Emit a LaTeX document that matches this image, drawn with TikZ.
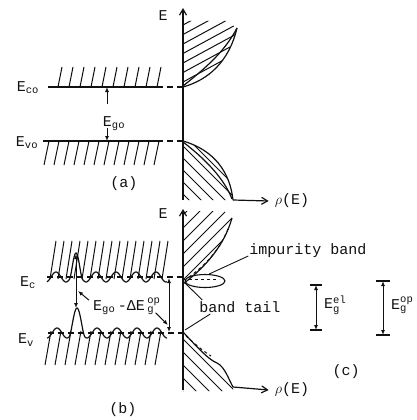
\documentclass[tikz,border=0pt]{standalone}
\usepackage{fontspec}
\setmainfont{Liberation Mono}
\usetikzlibrary{arrows.meta,shapes.geometric}
\definecolor{inkblack}{HTML}{111111}
\newcommand{\supsub}[2]{$_{\mathrm{#2}}^{\mathrm{#1}}$}

\begin{document}
\begin{tikzpicture}[
  x=1pt, y=-1pt,
  font=\fontsize{15}{18}\selectfont,
  line/.style={draw=inkblack, line width=1.2pt},
  hatch/.style={draw=inkblack, line width=1pt},
  edge/.style={draw=inkblack, line width=1.1pt, dash pattern=on 6pt off 4pt},
  dos/.style={draw=inkblack, line width=1pt, dash pattern=on 3pt off 3pt},
  axis/.style={-{Straight Barb[length=6pt,width=7pt]}, draw=inkblack, line width=1.2pt},
  arrow/.style={-{Latex[length=5pt,width=4pt]}, draw=inkblack, line width=1pt},
  gaparrow/.style={{Latex[length=5pt,width=4pt]}-{Latex[length=5pt,width=4pt]}, draw=inkblack, line width=1pt},
  leader/.style={draw=inkblack, line width=0.9pt},
  lbl/.style={inner sep=1pt, text=inkblack}
]
\useasboundingbox (0,0) rectangle (416,420);

\node[lbl] (Eco) at (28,88) {E\textsubscript{co}};
\node[lbl] (Evo) at (27,143) {E\textsubscript{vo}};
\node[lbl] (Ego) at (114,124) {E\textsubscript{go}};
\node[lbl] (labA) at (124,184) {(a)};
\node[lbl] (Eaxa) at (163,16) {E};
\node[lbl] (rhoa) at (292,201) {$\rho$(E)};

\draw[line] (48,87) -- (157,87);
\draw[edge] (157,87) -- (183,87);
\draw[line] (43,141) -- (157,141);
\draw[edge] (157,141) -- (183,141);
\foreach \x in {58,69,...,157}
  \draw[hatch] (\x,87) -- (\x+4,67);
\foreach \x in {44,54,...,154}
  \draw[hatch] (\x+5,141) -- (\x,165);

\coordinate (cotop) at (107,87);
\coordinate (cofoot) at (107,104);
\coordinate (vofoot) at (107,128);
\coordinate (votop) at (107,141);
\draw[arrow] (cofoot) -- (cotop);
\draw[arrow] (vofoot) -- (votop);

\coordinate (axa0) at (183,200);
\draw[axis] (axa0) -- (183,8);

\begin{scope}
  \clip (183,87) .. controls (208,80) and (229,62) .. (237,28) -- (226,21) -- (183,21) -- cycle;
  \foreach \y in {25,34.5,...,96}
    \draw[hatch] (183,\y) -- ++(70,-38);
\end{scope}
\draw[line] (183,87) .. controls (208,80) and (229,62) .. (237,28);
\draw[line] (183,86) .. controls (203,70) and (224,53) .. (237,28);

\begin{scope}
  \clip (183,141) .. controls (214,150) and (230,172) .. (233,200) -- (183,200) -- cycle;
  \foreach \y in {110,122,...,206}
    \draw[hatch] (183,\y) -- ++(70,70);
\end{scope}
\draw[line] (183,141) .. controls (214,150) and (230,172) .. (233,200);
\draw[line] (183,142) .. controls (204,158) and (224,178) .. (232,199);

\coordinate (rhoa0) at (233,200);
\draw[axis] (rhoa0) -- ([xshift=-5pt]rhoa.west);

\node[lbl] (Ec) at (28,283) {E\textsubscript{c}};
\node[lbl] (Ev) at (26,340) {E\textsubscript{v}};
\node[lbl, anchor=west] (gaplbl) at (92,306) {E\textsubscript{go}\,-ΔE\,\supsub{op}{g}};
\node[lbl] (labB) at (123,410) {(b)};
\node[lbl] (Eaxb) at (163,214) {E};
\node[lbl] (rhob) at (292,390) {$\rho$(E)};
\node[lbl] (impurity) at (308,251) {impurity band};
\node[lbl] (tail) at (240,307) {band tail};

\draw[edge] (47,277) -- (183,277);
\draw[edge] (48,333) -- (183,333);
\draw[line] plot[domain=47:167, samples=200, smooth]
  (\x, {277 + 5*sin(18*(\x-61)) - 19*(max(0,1-((\x-76)/6.5)^2))^2});
\draw[line] plot[domain=47:167, samples=200, smooth]
  (\x, {333 + 5*sin(18*(\x-62)) - 20*(max(0,1-((\x-77)/8)^2))^2});
\foreach \x in {50,58,...,162}
  \draw[hatch] (\x,279) -- (\x+6,241);
\foreach \x in {45,55,...,160}
  \draw[hatch] (\x+6,331) -- (\x,365);

\coordinate (chump) at (76,254);
\coordinate (vhump) at (76,308);
\coordinate (humpmid) at (78,291);
\draw[gaparrow] (chump) -- (vhump);
\draw[arrow] ([xshift=-3pt,yshift=-4pt]gaplbl.north west) -- (humpmid);

\coordinate (ectop) at (169,278);
\coordinate (evbot) at (169,332);
\coordinate (edgemid) at (168,325);
\draw[gaparrow] (ectop) -- (evbot);
\draw[arrow] ([xshift=-6pt,yshift=3pt]gaplbl.south east) -- (edgemid);

\coordinate (axb0) at (183,390);
\draw[axis] (axb0) -- (183,209);

\begin{scope}
  \clip (183,284) .. controls (200,271) and (223,250) .. (232,218) -- (224,211) -- (183,211) -- cycle;
  \foreach \y in {215,228,...,300}
    \draw[hatch] (183,\y) -- ++(70,-70);
\end{scope}
\draw[line] (183,284) .. controls (200,271) and (223,250) .. (232,218);
\draw[dos] (189,277) .. controls (206,265) and (222,247) .. (229,226);

\node[ellipse, draw=inkblack, line width=1.1pt, minimum width=40pt, minimum height=13pt, inner sep=0pt] (impband) at (205,281) {};
\draw[dos] (183,279) -- (219,279);

\begin{scope}
  \clip (183,332) .. controls (198,348) and (209,360) .. (217,363) .. controls (225,367) and (229,380) .. (233,387) -- (233,391) -- (183,391) -- cycle;
  \foreach \y in {300,313,...,392}
    \draw[hatch] (183,\y) -- ++(70,70);
\end{scope}
\draw[line] (183,332) .. controls (198,348) and (209,360) .. (217,363) .. controls (225,367) and (229,380) .. (233,387);
\draw[dos] (186,336) .. controls (195,344) and (203,351) .. (211,356);

\coordinate (rhob0) at (233,387);
\draw[axis] (rhob0) -- ([xshift=-5pt]rhob.west);

\coordinate (tailc) at (185,283);
\coordinate (tailv) at (185,330);
\draw[leader] ([yshift=-5pt]impurity.west) -- (impband.60);
\draw[leader] ([xshift=4pt,yshift=7pt]tail.west) -- (tailc);
\draw[leader] ([xshift=12pt,yshift=-7pt]tail.west) -- (tailv);

\node[lbl, anchor=west] (Egel) at (323,305) {E\supsub{el}{g}};
\node[lbl, anchor=west] (Egop) at (390,305) {E\supsub{op}{g}};
\node[lbl] (labC) at (346,372) {(c)};

\coordinate (elhi) at (316,285);
\coordinate (ello) at (316,330);
\draw[gaparrow] (elhi) -- (ello);
\draw[line] ([xshift=-6pt]elhi) -- ([xshift=6pt]elhi);
\draw[line] ([xshift=-6pt]ello) -- ([xshift=6pt]ello);

\coordinate (ophi) at (383,281);
\coordinate (oplo) at (383,335);
\draw[gaparrow] (ophi) -- (oplo);
\draw[line] ([xshift=-7pt]ophi) -- ([xshift=7pt]ophi);
\draw[line] ([xshift=-7pt]oplo) -- ([xshift=7pt]oplo);

\end{tikzpicture}
\end{document}
